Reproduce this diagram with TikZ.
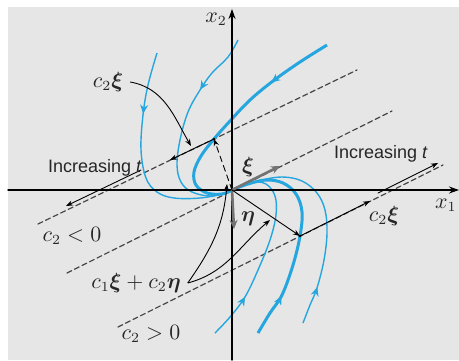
\documentclass[tikz,border=0pt]{standalone}
\usepackage{amsmath}
\usepackage{bm}
\usepackage{fontspec}
\setsansfont{Liberation Sans}
\usepackage{tikz}
\usepackage{tkz-euclide}
\usetikzlibrary{arrows.meta}
\usetikzlibrary{decorations.markings}

\definecolor{trajblue}{RGB}{38,166,222}
\definecolor{panelgray}{RGB}{230,230,230}
\definecolor{linegray}{RGB}{70,70,70}
\definecolor{vecgray}{RGB}{115,115,115}

\tikzset{
  traj/.style={trajblue,line width=0.7pt},
  trajthick/.style={trajblue,line width=1.5pt},
  cline/.style={linegray,line width=0.6pt,dash pattern=on 2.6pt off 1.6pt},
  vecarrow/.style={vecgray,line width=1.3pt,-{Stealth[length=4.5pt,width=4pt]}},
  ptr/.style={black,line width=0.45pt,-{Stealth[length=3.5pt,width=2.6pt]}},
  axis/.style={black,line width=0.7pt,-{Stealth[length=5pt,width=3.5pt]}},
  flowarrow/.style={postaction={decorate},
    decoration={markings,mark=at position #1 with {\arrow{Stealth[length=4.5pt,width=4pt]}}}},
  lbl/.style={black!85,font=\sffamily\fontsize{9}{10}\selectfont},
  mlbl/.style={black!85,font=\fontsize{10.5}{12}\selectfont},
}

\begin{document}
\begin{tikzpicture}[x=0.5pt,y=-0.5pt]
                \fill[white] (0,0) rectangle (459,360);
                \fill[panelgray] (8,7) rectangle (459,360);
                \useasboundingbox (0,0) rectangle (459,360);

                \tkzDefPoint(232,190){O}

                % axes
                \tkzDefPoint(8,190){A1}
                \tkzDefPoint(459,190){A2}
                \tkzDefPoint(232,360){B1}
                \tkzDefPoint(232,9){B2}

                % lines parallel to xi
                \tkzDefPoint(38,224){U1}
                \tkzDefPoint(357,70){U2}
                \tkzDefPoint(67,273){M1}
                \tkzDefPoint(392,111){M2}
                \tkzDefPoint(118,327){L1}
                \tkzDefPoint(443,165){L2}

                \tkzDrawSegment[cline](U1,U2)
                \tkzDrawSegment[cline](M1,M2)
                \tkzDrawSegment[cline](L1,L2)

                % trajectories, c2 < 0
                \draw[traj,flowarrow=0.28] plot[smooth,tension=0.6] coordinates {(157,53) (148,85) (143,115) (141,150) (146,178) (157,192) (174,198) (200,198) (222,194) (232,190)};
                \draw[traj,flowarrow=0.29] plot[smooth,tension=0.6] coordinates {(238,40) (228,57) (212,73) (200,90) (188,112) (180,140) (177,165) (181,182) (192,192) (212,196) (232,190)};
                \draw[trajthick,flowarrow=0.28] plot[smooth,tension=0.6] coordinates {(327,45) (300,62) (273,81) (250,100) (230,121) (214,139) (201,156) (194,172) (196,185) (207,193) (222,194) (232,190)};

                % trajectories, c2 > 0
                \draw[traj,flowarrow=0.23] plot[smooth,tension=0.6] coordinates {(215,333) (230,317) (245,297) (258,270) (270,240) (276,215) (275,196) (266,184) (252,182) (240,186) (232,190)};
                \draw[trajthick,flowarrow=0.2] plot[smooth,tension=0.6] coordinates {(258,333) (270,313) (282,295) (293,265) (300,236) (302,212) (296,194) (283,183) (266,180) (248,184) (232,190)};
                \draw[traj,flowarrow=0.17] plot[smooth,tension=0.6] coordinates {(303,323) (310,305) (317,288) (324,260) (327,233) (325,210) (317,193) (302,181) (282,177) (258,181) (232,190)};

                \tkzDrawSegment[axis](A1,A2)
                \tkzDrawSegment[axis](B1,B2)

                % eigenvector and generalized eigenvector
                \tkzDefPoint(280,166){Xi}
                \tkzDefPoint(234,229){Eta}
                \tkzDrawSegment[vecarrow](O,Xi)
                \tkzDrawSegment[vecarrow](O,Eta)

                % initial points and c2 xi
                \tkzDefPoint(214,139){Q1}
                \tkzDefPoint(170,160){Q2}
                \tkzDefPoint(300,236){P1}
                \tkzDefPoint(370,201){P2}
                \tkzDrawSegment[ptr,densely dashed](O,Q1)
                \tkzDrawSegment[ptr](O,P1)
                \tkzDrawSegment[ptr](Q1,Q2)
                \tkzDrawSegment[ptr](P1,P2)
                \fill (Q1) circle (1.3);
                \fill (P1) circle (1.3);

                % increasing t
                \tkzDefPoint(141,170){T1}
                \tkzDefPoint(66,206){T2}
                \tkzDefPoint(378,193){S1}
                \tkzDefPoint(438,163){S2}
                \tkzDrawSegment[ptr](T1,T2)
                \tkzDrawSegment[ptr](S1,S2)

                % labels
                \node[mlbl] (lcxa) at (108,82) {$c_2\bm{\xi}$};
                \node[mlbl] (lcxb) at (384,216) {$c_2\bm{\xi}$};
                \node[mlbl] (lsum) at (136,283) {$c_1\bm{\xi}+c_2\bm{\eta}$};
                \node[mlbl] (lneg) at (72,236) {$c_2<0$};
                \node[mlbl] (lpos) at (151,334) {$c_2>0$};
                \node[mlbl] (lxi) at (248,167) {$\bm{\xi}$};
                \node[mlbl] (leta) at (248,219) {$\bm{\eta}$};
                \node[mlbl] (lxtwo) at (216,19) {$x_2$};
                \node[mlbl,anchor=east,inner sep=1pt] (lxone) at (459,205) {$x_1$};
                \node[lbl] (linca) at (95,168) {Increasing \textit{t}};
                \node[lbl] (lincb) at (381,154) {Increasing \textit{t}};

                \tkzDefPoint(191,146){R1}
                \tkzDefPoint(227,184){R2}
                \tkzDefPoint(270,220){R3}
                \draw[ptr] (lcxa.east) to[out=-10,in=120] (R1);
                \draw[ptr] (lsum.east) to[out=55,in=-95] (R2);
                \draw[ptr] (lsum.east) to[out=15,in=-140] (R3);
            \end{tikzpicture}
\end{document}
